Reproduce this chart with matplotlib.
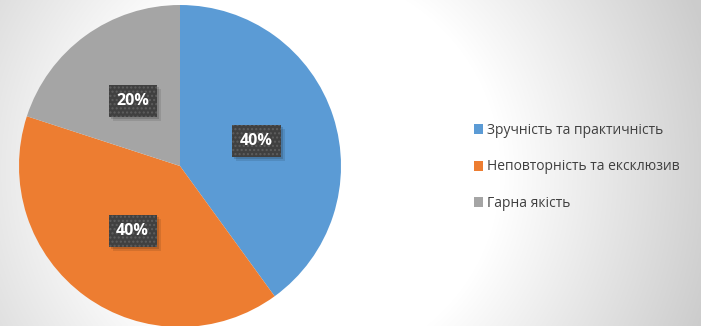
import numpy as np
import matplotlib
matplotlib.use("Agg")
import matplotlib.pyplot as plt
from matplotlib.patches import Patch, Rectangle

# survey shares
categories = ["Зручність та практичність", "Неповторність та ексклюзив", "Гарна якість"]
shares = [40, 40, 20]
colors = ["#5B9BD5", "#ED7D31", "#A5A5A5"]

W, H = 701, 326
fig = plt.figure(figsize=(W / 100, H / 100), dpi=100)

# soft radial background, white in the middle and grey towards the edges
bg = fig.add_axes([0, 0, 1, 1], zorder=-10)
yy, xx = np.mgrid[0:H, 0:W]
d = np.hypot(xx - 300, yy - 170)
t = np.clip((d - 200) / 230, 0, 1)
shade = 1.0 - 0.2 * t
bg.imshow(np.dstack([shade] * 3), extent=[0, W, H, 0], aspect="auto")
bg.axis("off")

# pie, centre around (180, 166) px, radius 161 px
ax = fig.add_axes([19 / W, -1 / H, 322 / W, 322 / H])
wedges, texts, autotexts = ax.pie(
    shares, colors=colors, startangle=90, counterclock=False,
    autopct=lambda p: f"{p:.0f}%", pctdistance=0.5,
    wedgeprops=dict(linewidth=0),
)
ax.set_xlim(-1, 1)
ax.set_ylim(-1, 1)
ax.set_aspect("equal")

for t_ in autotexts:
    t_.set_color("white")
    t_.set_fontsize(11.5)
    t_.set_fontweight("bold")
    t_.set_family("Open Sans")
    t_.set_bbox(dict(boxstyle="square,pad=0.48", facecolor="#404040",
                     edgecolor="#5e5e5e", linewidth=0, hatch="...."))
    t_.set_zorder(6)

# faint drop shadow under each label box, drawn inside the pie axes
fig.canvas.draw()
inv = ax.transData.inverted()
for t_ in autotexts:
    bb = t_.get_bbox_patch().get_window_extent()
    for off, a in [(2, 0.14), (4, 0.10)]:
        (x0, y0), (x1, y1) = inv.transform([(bb.x0 + off, bb.y0 - off),
                                            (bb.x1 + off, bb.y1 - off)])
        ax.add_patch(Rectangle((x0, y0), x1 - x0, y1 - y0, facecolor="black",
                               alpha=a, linewidth=0, zorder=4))

handles = [Patch(facecolor=c, edgecolor="none") for c in colors]
leg = fig.legend(handles, categories, loc="center left",
                 bbox_to_anchor=(461 / W, 1 - 167 / H),
                 frameon=False, labelspacing=1.55,
                 handlelength=0.7, handleheight=0.7, handletextpad=0.3,
                 prop=dict(family="Open Sans", size=10))
for txt in leg.get_texts():
    txt.set_color("#404040")

fig.savefig("out.png", dpi=100)
